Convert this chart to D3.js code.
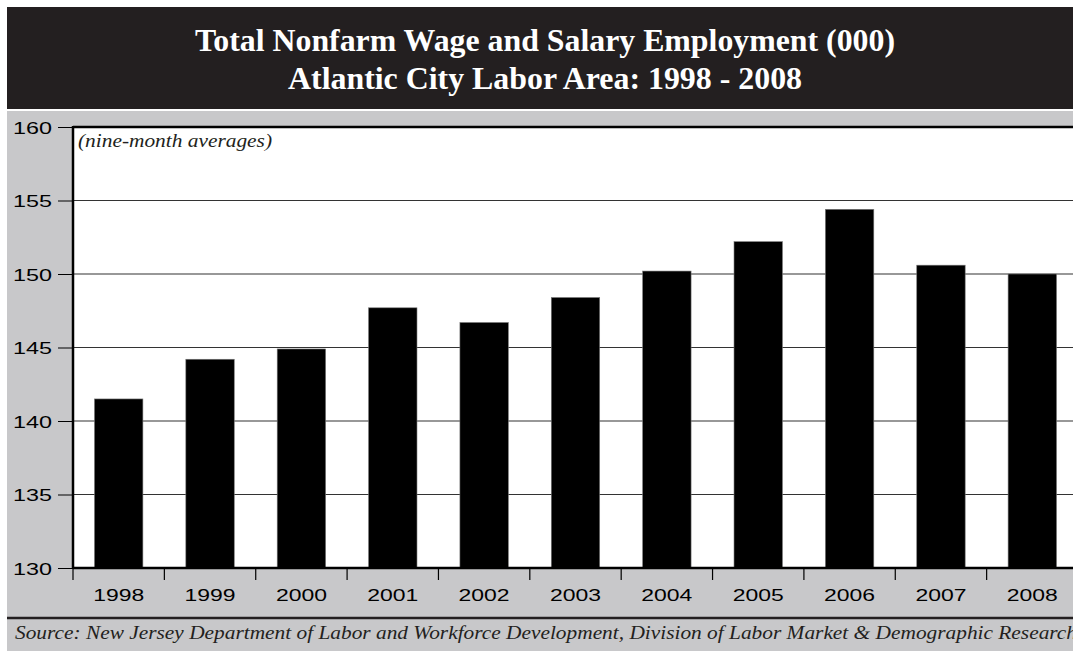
<!DOCTYPE html>
<html><head><meta charset="utf-8">
<script src="https://cdn.jsdelivr.net/npm/d3@7"></script>
<style>body{margin:0;background:#fff;}svg{display:block;}</style>
</head><body>
<svg id="c" width="1073" height="651"></svg>
<script>
const years = ["1998","1999","2000","2001","2002","2003","2004","2005","2006","2007","2008"];
const employment = [141.5, 144.2, 144.9, 147.7, 146.7, 148.4, 150.2, 152.2, 154.4, 150.6, 150.0];
const yTicks = [130, 135, 140, 145, 150, 155, 160];
const titleLines = ["Total Nonfarm Wage and Salary Employment (000)", "Atlantic City Labor Area: 1998 - 2008"];
const note = "(nine-month averages)";
const source = "Source: New Jersey Department of Labor and Workforce Development, Division of Labor Market & Demographic Research";

const svg = d3.select("#c");
const W = 1073, H = 651;
const gray = "#c8c8ca";
const serif = "'Liberation Serif','Times New Roman',serif";
const sans = "'Liberation Sans',Arial,sans-serif";

// backgrounds
svg.append("rect").attr("x",7).attr("y",111).attr("width",W-7).attr("height",H-111).attr("fill",gray);
svg.append("rect").attr("x",7).attr("y",7).attr("width",W-7).attr("height",102).attr("fill","#231f20");
const titleLen = [700, 514];
svg.selectAll("text.title").data(titleLines).join("text")
  .attr("class","title")
  .attr("x",545).attr("y",(d,i)=>51+i*38)
  .attr("text-anchor","middle")
  .attr("fill","#fff")
  .attr("font-family",serif)
  .attr("font-weight","bold").attr("font-size",31)
  .attr("textLength",(d,i)=>titleLen[i]).attr("lengthAdjust","spacingAndGlyphs")
  .text(d=>d);

const m = {left:73, top:127, right:1078, bottom:568};
const x = d3.scaleBand().domain(years).range([m.left, m.right]).paddingInner(0.47).paddingOuter(0.235);
const y = d3.scaleLinear().domain([130,160]).range([m.bottom, m.top]);

// plot area
svg.append("rect").attr("x",m.left).attr("y",m.top).attr("width",m.right-m.left).attr("height",m.bottom-m.top).attr("fill","#fff");

// gridlines
svg.append("g").selectAll("line").data(yTicks.filter(t=>t>130 && t<160)).join("line")
  .attr("x1",m.left).attr("x2",m.right).attr("y1",d=>y(d)).attr("y2",d=>y(d))
  .attr("stroke","#333").attr("stroke-width",1.2);

// bars
svg.append("g").selectAll("rect").data(years).join("rect")
  .attr("x",d=>x(d)).attr("width",x.bandwidth())
  .attr("y",(d,i)=>y(employment[i])).attr("height",(d,i)=>y(130)-y(employment[i]))
  .attr("fill","#000").attr("stroke","#777").attr("stroke-width",0.6);

// frame lines
svg.append("line").attr("x1",m.left).attr("x2",m.right).attr("y1",m.top).attr("y2",m.top).attr("stroke","#000").attr("stroke-width",2.5);
svg.append("line").attr("x1",m.left).attr("x2",m.right).attr("y1",m.bottom).attr("y2",m.bottom).attr("stroke","#000").attr("stroke-width",2.5);
svg.append("line").attr("x1",m.left).attr("x2",m.left).attr("y1",m.top-1).attr("y2",m.bottom+1).attr("stroke","#000").attr("stroke-width",2.5);

// y axis
const yAxis = d3.axisLeft(y).tickValues(yTicks).tickSize(15).tickPadding(6).tickFormat(d3.format("d"));
const gy = svg.append("g").attr("transform",`translate(${m.left},0)`).call(yAxis);
gy.select(".domain").remove();
gy.selectAll("line").attr("stroke","#000").attr("stroke-width",1);
gy.selectAll("text").attr("font-family",sans).attr("font-size",17).attr("fill","#000")
  .attr("dy","0.36em")
  .attr("textLength",39).attr("lengthAdjust","spacingAndGlyphs");

// x axis: ticks at band boundaries
const step = x.step();
const bounds = years.map((d,i)=>m.left + i*step);
svg.append("g").selectAll("line").data(bounds).join("line")
  .attr("x1",d=>d).attr("x2",d=>d).attr("y1",m.bottom).attr("y2",m.bottom+12)
  .attr("stroke","#000").attr("stroke-width",1.2);
svg.append("g").selectAll("text").data(years).join("text")
  .attr("x",d=>x(d)+x.bandwidth()/2).attr("y",601)
  .attr("text-anchor","middle")
  .attr("font-family",sans).attr("font-size",17).attr("fill","#000")
  .attr("textLength",51).attr("lengthAdjust","spacingAndGlyphs")
  .text(d=>d);

// note
svg.append("text").attr("x",78).attr("y",147)
  .attr("font-family",serif).attr("font-style","italic").attr("font-size",18)
  .attr("textLength",194).attr("lengthAdjust","spacingAndGlyphs")
  .attr("fill","#231f20").text(note);

// source
svg.append("line").attr("x1",7).attr("x2",W).attr("y1",618).attr("y2",618).attr("stroke","#231f20").attr("stroke-width",2.5);
svg.append("text").attr("x",15).attr("y",639)
  .attr("font-family",serif).attr("font-style","italic").attr("font-size",19)
  .attr("textLength",1062).attr("lengthAdjust","spacingAndGlyphs")
  .attr("fill","#231f20").text(source);
</script>
</body></html>
